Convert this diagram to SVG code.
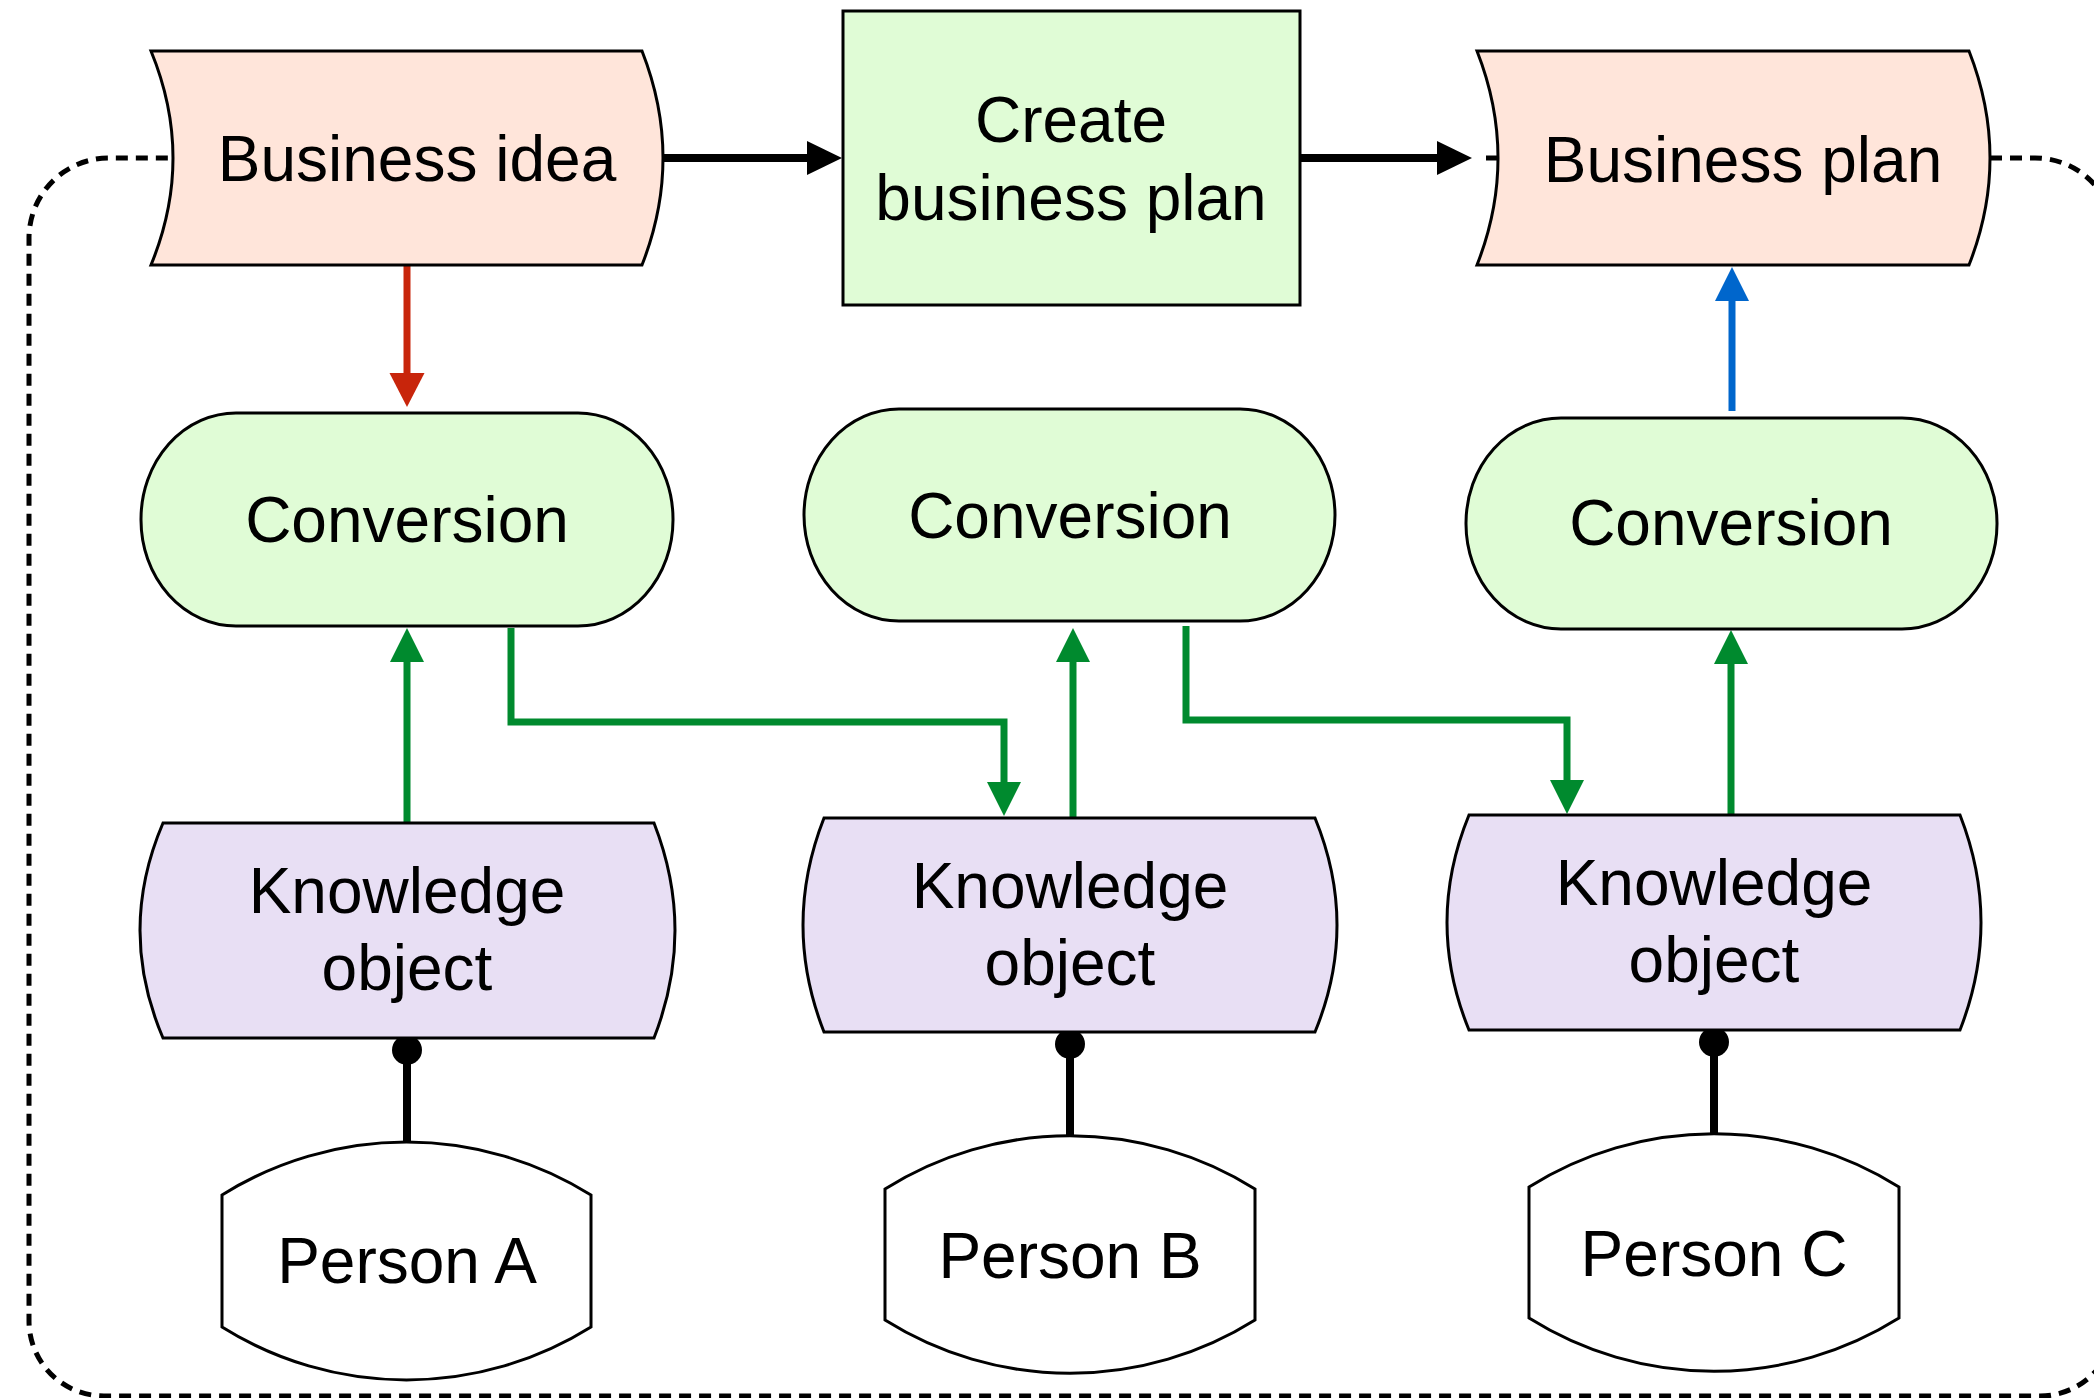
<svg xmlns="http://www.w3.org/2000/svg" width="2094" height="1398" viewBox="0 0 2094 1398">
<style>
text{font-family:"Liberation Sans",Arial,Helvetica,sans-serif;font-size:64px;fill:#000;text-anchor:middle}
.shape{stroke:#000;stroke-width:3}
.peach{fill:#FFE5DA}
.green{fill:#E0FCD6}
.lav{fill:#E8DFF4}
.white{fill:#FFFFFF}
.blk{stroke:#000;stroke-width:8;fill:none}
.red{stroke:#C8250B;stroke-width:7;fill:none}
.grn{stroke:#008A2E;stroke-width:7;fill:none}
.blu{stroke:#0066CC;stroke-width:7;fill:none}
.dash{stroke:#000;stroke-width:5;fill:none;stroke-dasharray:12 8}
</style>
<defs>
<marker id="aBlk" markerUnits="userSpaceOnUse" markerWidth="36" markerHeight="36" refX="1" refY="17" orient="auto"><path d="M0,0 L35,17 L0,34 Z" fill="#000"/></marker>
<marker id="aRed" markerUnits="userSpaceOnUse" markerWidth="36" markerHeight="36" refX="1" refY="17.5" orient="auto"><path d="M0,0 L34,17.5 L0,35 Z" fill="#C8250B"/></marker>
<marker id="aGrn" markerUnits="userSpaceOnUse" markerWidth="36" markerHeight="36" refX="1" refY="17" orient="auto"><path d="M0,0 L34,17 L0,34 Z" fill="#008A2E"/></marker>
<marker id="aBlu" markerUnits="userSpaceOnUse" markerWidth="36" markerHeight="36" refX="1" refY="17" orient="auto"><path d="M0,0 L34,17 L0,34 Z" fill="#0066CC"/></marker>
</defs>

<g id="connectors">
<path class="dash" d="M1990,158 H2035 A80,80 0 0 1 2115,238 V1321 A75,75 0 0 1 2040,1396 H104 A75,75 0 0 1 29,1321 V238 A80,80 0 0 1 109,158 H173"/>
<path class="dash" d="M1486,158 H1498"/>
<path class="blk" d="M663,158 H808" marker-end="url(#aBlk)"/>
<path class="blk" d="M1298,158 H1438" marker-end="url(#aBlk)"/>
<path class="red" d="M407,265 V374" marker-end="url(#aRed)"/>
<path class="grn" d="M407,822 V661" marker-end="url(#aGrn)"/>
<path class="grn" d="M511,628 V722 H1004 V783" marker-end="url(#aGrn)"/>
<path class="grn" d="M1073,817 V661" marker-end="url(#aGrn)"/>
<path class="grn" d="M1186,626 V720 H1567 V781" marker-end="url(#aGrn)"/>
<path class="grn" d="M1731,814 V663" marker-end="url(#aGrn)"/>
<path class="blu" d="M1732,411 V300" marker-end="url(#aBlu)"/>
<path class="blk" d="M407,1050 V1142"/>
<circle cx="407" cy="1050" r="15" fill="#000"/>
<path class="blk" d="M1070,1044 V1137"/>
<circle cx="1070" cy="1044" r="15" fill="#000"/>
<path class="blk" d="M1714,1042 V1135"/>
<circle cx="1714" cy="1042" r="15" fill="#000"/>
</g>

<g id="business-idea">
<path class="shape peach" d="M151,51 L642,51 Q684,158 642,265 L151,265 Q195,158 151,51 Z"/>
<text x="417" y="181">Business idea</text>
</g>

<g id="create-business-plan">
<rect class="shape green" x="843" y="11" width="457" height="294"/>
<text x="1071" y="142">Create</text>
<text x="1071" y="220">business plan</text>
</g>

<g id="business-plan">
<path class="shape peach" d="M1477,51 L1969,51 Q2011,158 1969,265 L1477,265 Q1519,158 1477,51 Z"/>
<text x="1743" y="182">Business plan</text>
</g>

<g id="conversion-1">
<rect class="shape green" x="141" y="413" width="532" height="213" rx="95" ry="106"/>
<text x="407" y="542">Conversion</text>
</g>

<g id="conversion-2">
<rect class="shape green" x="804" y="409" width="531" height="212" rx="95" ry="106"/>
<text x="1070" y="538">Conversion</text>
</g>

<g id="conversion-3">
<rect class="shape green" x="1466" y="418" width="531" height="211" rx="95" ry="105"/>
<text x="1731" y="545">Conversion</text>
</g>

<g id="knowledge-object-1">
<path class="shape lav" d="M163,823 L654,823 Q696,930.5 654,1038 L163,1038 Q117,930.5 163,823 Z"/>
<text x="407" y="913">Knowledge</text>
<text x="407" y="990">object</text>
</g>

<g id="knowledge-object-2">
<path class="shape lav" d="M824,818 L1315,818 Q1359,925 1315,1032 L824,1032 Q782,925 824,818 Z"/>
<text x="1070" y="908">Knowledge</text>
<text x="1070" y="985">object</text>
</g>

<g id="knowledge-object-3">
<path class="shape lav" d="M1469,815 L1960,815 Q2002,922.5 1960,1030 L1469,1030 Q1425,922.5 1469,815 Z"/>
<text x="1714" y="905">Knowledge</text>
<text x="1714" y="982">object</text>
</g>

<g id="person-a">
<path class="shape white" d="M222,1195 A348,348 0 0 1 591,1195 L591,1327 A348,348 0 0 1 222,1327 Z"/>
<text x="407" y="1283">Person A</text>
</g>

<g id="person-b">
<path class="shape white" d="M885,1189 A348,348 0 0 1 1255,1189 L1255,1320 A348,348 0 0 1 885,1320 Z"/>
<text x="1070" y="1278">Person B</text>
</g>

<g id="person-c">
<path class="shape white" d="M1529,1187 A348,348 0 0 1 1899,1187 L1899,1318 A348,348 0 0 1 1529,1318 Z"/>
<text x="1714" y="1276">Person C</text>
</g>
</svg>
